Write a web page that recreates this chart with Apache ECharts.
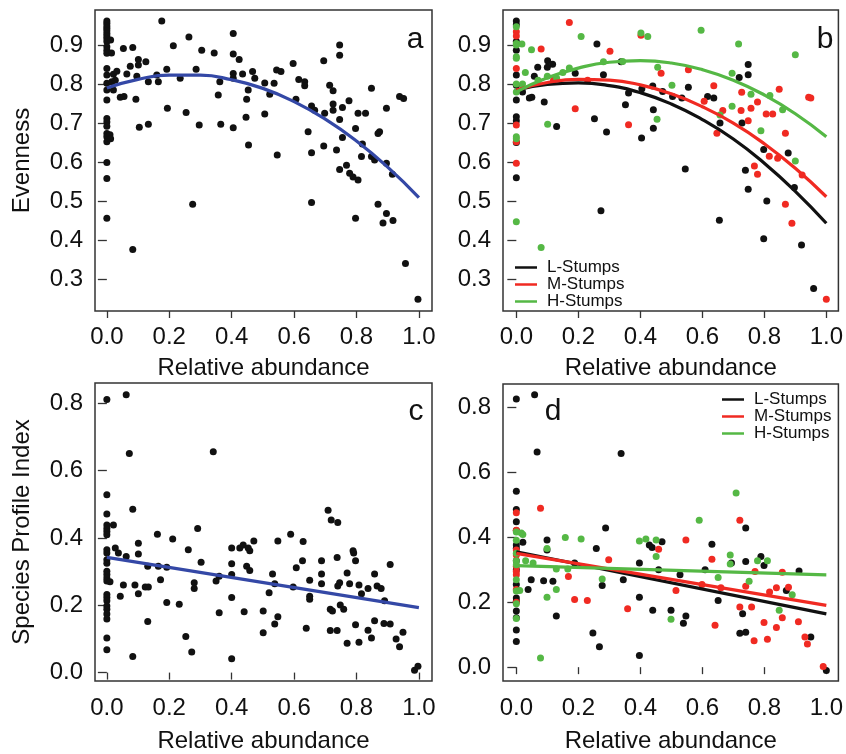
<!DOCTYPE html>
<html><head><meta charset="utf-8">
<script src="https://cdn.jsdelivr.net/npm/echarts@6/dist/echarts.min.js"></script>
<style>html,body{margin:0;padding:0;background:#fff}#c{width:846px;height:754px}</style>
</head><body><div id="c"></div>
<script>
// ---------- tick labels ----------
const xTicks = [0, 0.2, 0.4, 0.6, 0.8, 1.0];
const evenTicks = [0.3, 0.4, 0.5, 0.6, 0.7, 0.8, 0.9];
const spiTicks = [0.0, 0.2, 0.4, 0.6, 0.8];
const groups = ['L-Stumps', 'M-Stumps', 'H-Stumps'];

// ---------- panel a: evenness, all plots ----------
const evenAll = [
 [0,0.962],[0,0.956],[0,0.949],[0,0.943],[0,0.937],[0,0.930],[0,0.923],[0,0.917],[0,0.909],[0,0.896],[0,0.887],[0,0.879],[0,0.840],[0,0.823],[0,0.802],[0,0.785],[0,0.759],[0,0.712],[0,0.703],[0,0.692],[0,0.673],[0,0.665],[0,0.652],[0,0.599],[0,0.558],[0,0.456],
 [0.012,0.913],[0.015,0.88],[0.021,0.825],[0.027,0.81],[0.01,0.67],[0.012,0.66],
 [0.053,0.891],[0.083,0.894],[0.032,0.833],[0.064,0.826],[0.075,0.846],[0.101,0.863],[0.125,0.857],[0.101,0.849],[0.096,0.82],[0.133,0.806],[0.165,0.806],[0.16,0.823],[0.192,0.838],[0.235,0.815],
 [0.176,0.962],[0.213,0.898],[0.263,0.921],[0.286,0.838],[0.304,0.887],[0.344,0.88],[0.405,0.93],[0.405,0.877],[0.424,0.863],[0.405,0.827],[0.405,0.815],[0.435,0.826],[0.467,0.832],[0.474,0.815],[0.506,0.803],[0.544,0.836],[0.558,0.832],[0.536,0.802],[0.597,0.853],[0.615,0.812],[0.634,0.806],[0.634,0.796],
 [0.016,0.806],[0.021,0.785],[0.043,0.766],[0.055,0.768],[0.093,0.761],[0.362,0.806],[0.357,0.772],[0.453,0.785],[0.448,0.761],[0.522,0.774],[0.606,0.761],
 [0.194,0.738],[0.254,0.727],[0.296,0.695],[0.365,0.697],[0.405,0.688],[0.446,0.715],[0.506,0.723],[0.454,0.644],[0.104,0.689],[0.133,0.697],[0.546,0.618],[0.275,0.492],[0.083,0.376],
 [0.656,0.744],[0.666,0.733],[0.695,0.86],[0.714,0.797],[0.725,0.783],[0.698,0.725],[0.725,0.749],[0.725,0.733],[0.755,0.74],[0.776,0.757],[0.746,0.9],[0.746,0.874],[0.746,0.709],[0.755,0.663],
 [0.805,0.725],[0.829,0.725],[0.848,0.789],[0.938,0.768],[0.951,0.763],[0.896,0.738],[0.645,0.678],[0.797,0.686],[0.874,0.678],[0.869,0.673],[0.656,0.624],[0.695,0.641],[0.736,0.631],
 [0.819,0.646],[0.816,0.614],[0.848,0.614],[0.858,0.605],[0.896,0.597],[0.915,0.569],[0.746,0.581],[0.768,0.592],[0.778,0.571],[0.789,0.562],[0.805,0.554],
 [0.869,0.492],[0.896,0.468],[0.885,0.444],[0.917,0.45],[0.797,0.456],[0.656,0.496],[0.957,0.34],[0.997,0.248]
];

// ---------- panel b: evenness by stump class ----------
const evenL = [
 [0,0.962],[0,0.952],[0,0.909],[0,0.887],[0,0.823],[0,0.797],[0,0.759],[0,0.716],[0,0.706],[0,0.65],[0,0.56],
 [0.26,0.903],[0.101,0.86],[0.117,0.851],[0.069,0.843],[0.1,0.843],[0.058,0.82],[0.19,0.828],[0.281,0.824],[0.338,0.857],[0.02,0.78],[0.042,0.764],[0.05,0.766],[0.09,0.754],
 [0.362,0.777],[0.405,0.788],[0.44,0.795],[0.472,0.781],[0.504,0.768],[0.352,0.747],[0.442,0.734],[0.252,0.711],[0.13,0.691],[0.291,0.677],[0.442,0.687],[0.404,0.662],[0.273,0.475],
 [0.748,0.85],[0.748,0.824],[0.719,0.817],[0.555,0.792],[0.534,0.764],[0.617,0.768],[0.637,0.764],[0.657,0.7],[0.728,0.7],[0.798,0.632],[0.877,0.623],[0.545,0.582],[0.739,0.579],
 [0.748,0.53],[0.808,0.5],[0.897,0.535],[0.655,0.451],[0.798,0.403],[0.92,0.387],[0.959,0.276]
];
const evenM = [
 [0,0.934],[0,0.923],[0,0.84],[0,0.695],[0,0.652],[0,0.597],
 [0.171,0.958],[0.08,0.89],[0.302,0.884],[0.402,0.925],[0.467,0.828],[0.19,0.737],[0.362,0.696],[0.555,0.837],[0.637,0.796],[0.606,0.756],[0.727,0.779],[0.778,0.754],
 [0.848,0.787],[0.943,0.766],[0.95,0.764],[0.725,0.732],[0.757,0.738],[0.806,0.723],[0.827,0.723],[0.666,0.732],[0.748,0.706],[0.647,0.674],[0.868,0.674],[0.816,0.615],
 [0.843,0.61],[0.768,0.59],[0.778,0.569],[0.868,0.492],[0.922,0.567],[0.889,0.443],[1.0,0.248],[0.12,0.81],[0.23,0.81]
];
const evenH = [
 [0,0.947],[0,0.904],[0,0.9],[0,0.87],[0,0.866],[0,0.8],[0,0.78],[0,0.665],[0,0.66],[0,0.447],
 [0.018,0.903],[0.029,0.83],[0.049,0.888],[0.209,0.922],[0.402,0.931],[0.424,0.922],[0.171,0.841],[0.281,0.857],[0.343,0.858],[0.456,0.843],[0.502,0.797],[0.101,0.697],[0.08,0.381],[0.454,0.71],
 [0.596,0.938],[0.717,0.903],[0.9,0.875],[0.696,0.828],[0.757,0.774],[0.818,0.771],[0.859,0.734],[0.657,0.721],[0.696,0.743],[0.789,0.68],[0.9,0.603],
 [0.07,0.81],[0.1,0.82],[0.13,0.815],[0.15,0.83],[0.02,0.8]
];

// ---------- panel c: species profile index, all plots ----------
const spiAll = [
 [0,0.811],[0,0.528],[0,0.471],[0,0.438],[0,0.428],[0,0.419],[0,0.409],[0,0.365],[0,0.355],[0,0.335],[0,0.325],[0,0.301],[0,0.291],[0,0.281],[0,0.272],[0,0.232],[0,0.223],[0,0.213],[0,0.198],[0,0.188],[0,0.174],[0,0.159],[0,0.103],[0,0.068],
 [0.021,0.438],[0.027,0.37],[0.037,0.355],[0.01,0.27],
 [0.062,0.825],[0.072,0.651],[0.083,0.485],[0.062,0.345],[0.053,0.26],[0.043,0.227],[0.083,0.048],[0.101,0.384],[0.101,0.352],[0.09,0.26],[0.101,0.234],[0.123,0.254],[0.133,0.254],[0.131,0.316],[0.131,0.152],
 [0.162,0.411],[0.165,0.316],[0.172,0.276],[0.192,0.313],[0.192,0.208],[0.211,0.397],[0.232,0.203],[0.253,0.107],[0.261,0.365],[0.272,0.061],[0.28,0.267],[0.28,0.25],[0.291,0.428],[0.302,0.328],
 [0.341,0.656],[0.35,0.272],[0.36,0.286],[0.36,0.178],[0.4,0.37],[0.4,0.323],[0.4,0.291],[0.4,0.223],[0.4,0.041],[0.426,0.37],[0.437,0.379],[0.453,0.37],[0.458,0.362],[0.471,0.391],[0.448,0.316],[0.458,0.303],[0.44,0.181],
 [0.501,0.183],[0.501,0.118],[0.52,0.237],[0.531,0.293],[0.538,0.264],[0.548,0.391],[0.548,0.166],[0.538,0.144],[0.589,0.411],[0.597,0.254],[0.607,0.311],[0.629,0.389],[0.627,0.332],[0.65,0.274],[0.65,0.227],[0.65,0.218],[0.639,0.132],
 [0.688,0.332],[0.688,0.293],[0.688,0.264],[0.709,0.482],[0.719,0.453],[0.74,0.446],[0.716,0.188],[0.723,0.183],[0.716,0.125],[0.738,0.125],[0.738,0.342],[0.74,0.257],[0.746,0.267],[0.748,0.201],[0.759,0.188],
 [0.77,0.296],[0.77,0.087],[0.778,0.264],[0.789,0.362],[0.791,0.355],[0.797,0.332],[0.797,0.142],[0.808,0.26],[0.808,0.09],[0.816,0.234],[0.837,0.25],[0.837,0.126],[0.848,0.103],[0.858,0.293],[0.858,0.154],
 [0.866,0.257],[0.879,0.25],[0.89,0.213],[0.888,0.146],[0.908,0.144],[0.908,0.321],[0.927,0.1],[0.938,0.077],[0.949,0.12],[0.986,0.007],[0.997,0.019]
];

// ---------- panel d: species profile index by stump class ----------
const spiL = [
 [0,0.825],[0,0.541],[0,0.485],[0,0.447],[0,0.42],[0,0.376],[0,0.366],[0,0.327],[0,0.3],[0,0.254],[0,0.213],[0,0.203],[0,0.173],[0,0.152],[0,0.114],[0,0.079],
 [0.021,0.384],[0.038,0.239],[0.059,0.838],[0.067,0.662],[0.048,0.269],[0.088,0.266],[0.099,0.391],[0.099,0.36],[0.118,0.264],[0.129,0.157],[0.188,0.32],[0.247,0.105],[0.258,0.365],[0.277,0.251],[0.268,0.063],[0.288,0.428],
 [0.338,0.657],[0.345,0.269],[0.397,0.32],[0.397,0.215],[0.397,0.036],[0.429,0.376],[0.438,0.368],[0.459,0.3],[0.47,0.386],[0.44,0.175],[0.499,0.175],[0.528,0.284],[0.539,0.135],[0.547,0.157],
 [0.609,0.3],[0.631,0.378],[0.651,0.205],[0.694,0.32],[0.74,0.428],[0.74,0.325],[0.73,0.164],[0.721,0.104],[0.74,0.107],[0.789,0.34],[0.799,0.313],[0.871,0.236],[0.912,0.296],[0.95,0.093],[1.0,-0.01]
];
const spiM = [
 [0,0.475],[0,0.421],[0,0.36],[0,0.345],[0,0.31],[0,0.294],[0,0.284],[0,0.239],[0,0.2],
 [0.078,0.489],[0.168,0.279],[0.188,0.208],[0.229,0.205],[0.298,0.33],[0.359,0.18],[0.459,0.363],[0.515,0.236],[0.547,0.391],[0.599,0.254],[0.631,0.332],[0.641,0.129],[0.66,0.244],
 [0.721,0.452],[0.721,0.185],[0.74,0.249],[0.759,0.185],[0.767,0.081],[0.77,0.294],[0.799,0.137],[0.81,0.086],[0.817,0.231],[0.839,0.244],[0.839,0.122],[0.858,0.292],[0.858,0.152],[0.878,0.246],
 [0.91,0.14],[0.931,0.093],[0.939,0.071],[0.99,0.002]
];
const spiH = [
 [0,0.416],[0,0.39],[0,0.35],[0,0.327],[0,0.315],[0,0.269],[0,0.234],[0,0.195],[0,0.15],
 [0.016,0.413],[0.021,0.408],[0.03,0.327],[0.011,0.236],[0.078,0.028],[0.054,0.32],[0.099,0.365],[0.099,0.215],[0.129,0.239],[0.129,0.302],[0.158,0.399],[0.166,0.302],[0.209,0.394],[0.277,0.271],
 [0.397,0.388],[0.418,0.394],[0.451,0.391],[0.451,0.34],[0.499,0.147],[0.59,0.452],[0.651,0.276],[0.69,0.345],[0.69,0.317],[0.709,0.536],[0.751,0.264],[0.778,0.327],[0.81,0.327],[0.848,0.175],[0.89,0.223]
];

// ---------- fitted curves ----------
const fitX = [0, 0.1, 0.2, 0.3, 0.4, 0.5, 0.6, 0.7, 0.8, 0.9, 1.0];
const evenFitAll = [0.790, 0.812, 0.823, 0.823, 0.811, 0.789, 0.755, 0.710, 0.654, 0.587, 0.509];
const evenFitL = [0.785, 0.799, 0.803, 0.796, 0.778, 0.749, 0.709, 0.659, 0.597, 0.525, 0.443];
const evenFitM = [0.785, 0.804, 0.812, 0.810, 0.798, 0.775, 0.742, 0.700, 0.647, 0.584, 0.511];
const evenFitH = [0.780, 0.816, 0.841, 0.856, 0.860, 0.854, 0.837, 0.810, 0.772, 0.724, 0.665];
const lineX = [0, 1.0];
const spiFitAll = [0.342, 0.193];
const spiFitL = [0.355, 0.164];
const spiFitM = [0.350, 0.190];
const spiFitH = [0.312, 0.284];

// ---------- styling ----------
const FONT = '"Liberation Sans", Arial, Helvetica, sans-serif';
const COLORS = { 'L-Stumps': '#111111', 'M-Stumps': '#f02a22', 'H-Stumps': '#55b845' };
const BLUE = '#3448a6';
const TXT = '#111111';

const chart = echarts.init(document.getElementById('c'), null, { renderer: 'canvas' });

const grids = [
  { left: 95, top: 10, width: 337, height: 301 },
  { left: 503, top: 10, width: 336, height: 301 },
  { left: 95, top: 383, width: 337, height: 301 },
  { left: 503, top: 384, width: 336, height: 300 }
].map(g => Object.assign({ show: true, borderColor: '#333', borderWidth: 1.5, backgroundColor: 'transparent', containLabel: false }, g));

const xRanges = [[-0.038, 1.042], [-0.043, 1.039], [-0.038, 1.042], [-0.043, 1.039]];
const yRanges = [[0.218, 0.99], [0.218, 0.99], [-0.025, 0.86], [-0.0426, 0.871]];
const yTickSets = [evenTicks, evenTicks, spiTicks, spiTicks];
const yNames = ['Evenness', '', 'Species Profile Index', ''];

const xAxes = xRanges.map((r, i) => ({
  type: 'value', gridIndex: i, min: r[0], max: r[1],
  name: 'Relative abundance', nameLocation: 'middle', nameGap: i < 2 ? 45 : 48,
  nameTextStyle: { fontSize: 24, color: TXT, fontFamily: FONT },
  axisLine: { show: false }, splitLine: { show: false },
  axisTick: { show: true, inside: false, length: 7, lineStyle: { color: '#333', width: 1.3 }, customValues: xTicks },
  axisLabel: { customValues: xTicks, formatter: v => v.toFixed(1), fontSize: 24, color: TXT, margin: i < 2 ? 14 : 15, fontFamily: FONT }
}));
const yAxes = yRanges.map((r, i) => ({
  type: 'value', gridIndex: i, min: r[0], max: r[1],
  name: yNames[i], nameLocation: 'middle', nameGap: 61, nameRotate: 90,
  nameTextStyle: { fontSize: 24, color: TXT, fontFamily: FONT },
  axisLine: { show: false }, splitLine: { show: false },
  axisTick: { show: true, inside: false, length: 9, lineStyle: { color: '#333', width: 1.3 }, customValues: yTickSets[i] },
  axisLabel: { customValues: yTickSets[i], formatter: v => v.toFixed(1), fontSize: 24, color: TXT, margin: 12, fontFamily: FONT }
}));

function pts(idx, name, data, color) {
  return { type: 'scatter', name: name, xAxisIndex: idx, yAxisIndex: idx, data: data, symbolSize: 7,
           itemStyle: { color: color, opacity: 1 }, silent: true, z: 2, animation: false };
}
function fit(idx, name, xs, ys, color, smooth) {
  return { type: 'line', name: name, xAxisIndex: idx, yAxisIndex: idx, data: xs.map((x, k) => [x, ys[k]]),
           smooth: smooth, symbol: 'none', itemStyle: { color: color }, lineStyle: { color: color, width: 3.2 },
           silent: true, z: 3, animation: false };
}

const series = [
  pts(0, 'a-pts', evenAll, '#111111'),
  fit(0, 'a-fit', fitX, evenFitAll, BLUE, true),
  pts(1, 'L-pts', evenL, COLORS['L-Stumps']),
  pts(1, 'M-pts', evenM, COLORS['M-Stumps']),
  pts(1, 'H-pts', evenH, COLORS['H-Stumps']),
  fit(1, 'L-Stumps', fitX, evenFitL, COLORS['L-Stumps'], true),
  fit(1, 'M-Stumps', fitX, evenFitM, COLORS['M-Stumps'], true),
  fit(1, 'H-Stumps', fitX, evenFitH, COLORS['H-Stumps'], true),
  pts(2, 'c-pts', spiAll, '#111111'),
  fit(2, 'c-fit', lineX, spiFitAll, BLUE, false),
  pts(3, 'L-pts', spiL, COLORS['L-Stumps']),
  pts(3, 'M-pts', spiM, COLORS['M-Stumps']),
  pts(3, 'H-pts', spiH, COLORS['H-Stumps']),
  fit(3, 'L-Stumps', lineX, spiFitL, COLORS['L-Stumps'], false),
  fit(3, 'M-Stumps', lineX, spiFitM, COLORS['M-Stumps'], false),
  fit(3, 'H-Stumps', lineX, spiFitH, COLORS['H-Stumps'], false)
];

function legend(left, top) {
  return { data: groups, left: left, top: top, orient: 'vertical', icon: 'rect', itemWidth: 22, itemHeight: 2.5,
           itemGap: 0, selectedMode: false, padding: 0,
           textStyle: { fontSize: 17, lineHeight: 14.5, color: TXT, fontFamily: FONT, padding: [0, 0, 0, 5] } };
}

const letters = [['a', 415, 40], ['b', 825, 40], ['c', 416, 412], ['d', 553, 412]];

chart.setOption({
  animation: false,
  backgroundColor: '#ffffff',
  grid: grids,
  xAxis: xAxes,
  yAxis: yAxes,
  legend: [legend(515, 259), legend(722, 391)],
  series: series,
  graphic: letters.map(l => ({ type: 'text', x: l[1], y: l[2], silent: true,
    style: { text: l[0], fill: TXT, font: '30px ' + FONT, textAlign: 'center', textVerticalAlign: 'middle' } }))
});
</script></body></html>
